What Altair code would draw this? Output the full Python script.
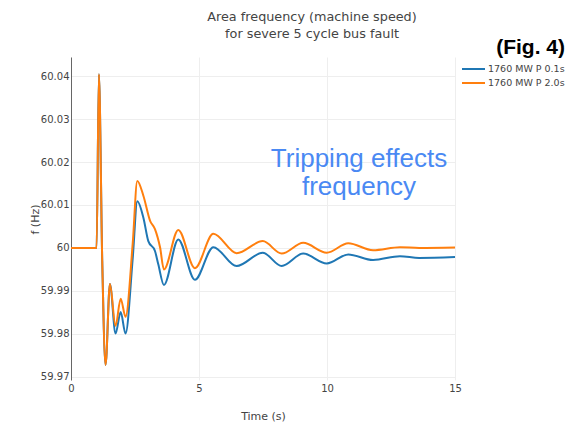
import altair as alt
import pandas as pd

# ---- data ----
series_names = ["1760 MW P 0.1s", "1760 MW P 2.0s"]
series_colors = ["#1f77b4", "#ff7f0e"]

t_blue = [0, 1.0, 1.09, 1.22, 1.35, 1.52, 1.74, 1.94, 2.13, 2.41, 2.59, 2.83, 3.02,
          3.28, 3.41, 3.63, 4.19, 4.84, 5.56, 6.47, 7.49, 8.23, 9.07, 9.99, 10.83,
          11.8, 12.85, 13.6, 15.0]
f_blue = [60.0, 60.0, 60.0404, 59.997, 59.9728, 59.9916, 59.9801, 59.9851, 59.9801,
          59.9975, 60.0109, 60.0070, 60.0016, 59.9993, 59.9962, 59.9914, 60.0020,
          59.9926, 60.0002, 59.9958, 59.9989, 59.9958, 59.9987, 59.9964, 59.9985,
          59.9972, 59.9981, 59.9977, 59.9979]

t_orange = [0, 1.0, 1.09, 1.22, 1.35, 1.52, 1.74, 1.94, 2.13, 2.41, 2.59, 2.83, 3.09,
            3.28, 3.48, 3.63, 4.19, 4.84, 5.56, 6.47, 7.49, 8.23, 9.07, 9.99, 10.83,
            11.8, 12.85, 13.6, 15.0]
f_orange = [60.0, 60.0, 60.0404, 59.997, 59.9728, 59.9916, 59.9819, 59.9882, 59.9840,
            60.0010, 60.0156, 60.0121, 60.0063, 60.0044, 60.0001, 59.9950, 60.0042,
            59.9953, 60.0033, 59.9988, 60.0016, 59.9987, 60.0012, 59.9989, 60.0011,
            59.9995, 60.0002, 60.0000, 60.0001]

x_ticks = [0, 5, 10, 15]
y_ticks = [59.97, 59.98, 59.99, 60.0, 60.01, 60.02, 60.03, 60.04]
title_lines = ["Area frequency (machine speed)", "for severe 5 cycle bus fault"]
fig_label = ["(Fig. 4)"]
note_lines = ["Tripping effects", "frequency"]

# ---- build table ----
df = pd.concat([
    pd.DataFrame({"t": t_blue, "f": f_blue, "series": series_names[0]}),
    pd.DataFrame({"t": t_orange, "f": f_orange, "series": series_names[1]}),
], ignore_index=True)

FONT = "DejaVu Sans"
GREY = "#444"

x_enc = alt.X("t:Q", scale=alt.Scale(domain=[0, 15], nice=False, zero=False),
              axis=alt.Axis(values=x_ticks, title="Time (s)", grid=True, gridColor="#eeeeee",
                            domain=False, ticks=False, labelFlush=False, labelPadding=3,
                            labelFont=FONT, labelFontSize=10, labelColor=GREY,
                            titleFont=FONT, titleFontSize=11, titleColor=GREY,
                            titleFontWeight="normal", titleX=192, titleY=39,
                            titleBaseline="alphabetic", titleAlign="center"))
y_enc = alt.Y("f:Q", scale=alt.Scale(domain=[59.9693, 60.04442], nice=False, zero=False),
              axis=alt.Axis(values=y_ticks, format=".2~f", title="f (Hz)", grid=True,
                            gridColor="#eeeeee", domain=True, domainColor="#666666",
                            ticks=False, labelPadding=2, labelFont=FONT, labelFontSize=10,
                            labelColor=GREY, titleFont=FONT, titleFontSize=11,
                            titleColor=GREY, titleFontWeight="normal", titleAngle=270,
                            titleX=-36, titleY=162, titleAlign="center",
                            titleBaseline="middle"))
color_enc = alt.Color("series:N", scale=alt.Scale(domain=series_names, range=series_colors),
                      legend=None)

base = alt.Chart(df)
lines = []
for name in series_names:
    lines.append(
        base.transform_filter(alt.datum.series == name)
        .mark_line(strokeWidth=2, interpolate="monotone", clip=True)
        .encode(x=x_enc, y=y_enc, color=color_enc)
    )

def text_layer(strings, x, y, **kw):
    return alt.Chart(pd.DataFrame({"label": strings})).mark_text(**kw).encode(
        text="label:N", x=alt.value(x), y=alt.value(y))

layers = list(lines)
# title
layers.append(text_layer([title_lines[0]], 241, -36, font=FONT, fontSize=12.8, color=GREY,
                         align="center", baseline="alphabetic"))
layers.append(text_layer([title_lines[1]], 241, -19, font=FONT, fontSize=12.8, color=GREY,
                         align="center", baseline="alphabetic"))
# (Fig. 4)
layers.append(text_layer(fig_label, 494, -3, font="Liberation Sans", fontSize=21,
                         fontWeight="bold", color="#000000", align="right",
                         baseline="alphabetic"))
# annotation
layers.append(text_layer([note_lines[0]], 288, 110, font="Liberation Sans", fontSize=26,
                         color="#4a89f3", align="center", baseline="alphabetic"))
layers.append(text_layer([note_lines[1]], 288, 138, font="Liberation Sans", fontSize=26,
                         color="#4a89f3", align="center", baseline="alphabetic"))
# manual legend
for i, (name, col) in enumerate(zip(series_names, series_colors)):
    yy = 12 + 14 * i
    layers.append(
        alt.Chart(pd.DataFrame({"series": [name]})).mark_rule(strokeWidth=2, color=col)
        .encode(x=alt.value(391), x2=alt.value(414), y=alt.value(yy))
    )
    layers.append(text_layer([name], 417, yy, font=FONT, fontSize=9.5, color=GREY,
                             align="left", baseline="middle"))

chart = alt.layer(*layers).properties(
    width=384, height=323,
    padding={"left": 63, "top": 49, "right": 111, "bottom": 46},
    autosize=alt.AutoSizeParams(type="none"),
    background="white",
).configure_view(stroke=None)

chart.save("out.html", embed_options={"renderer": "svg", "actions": False})
